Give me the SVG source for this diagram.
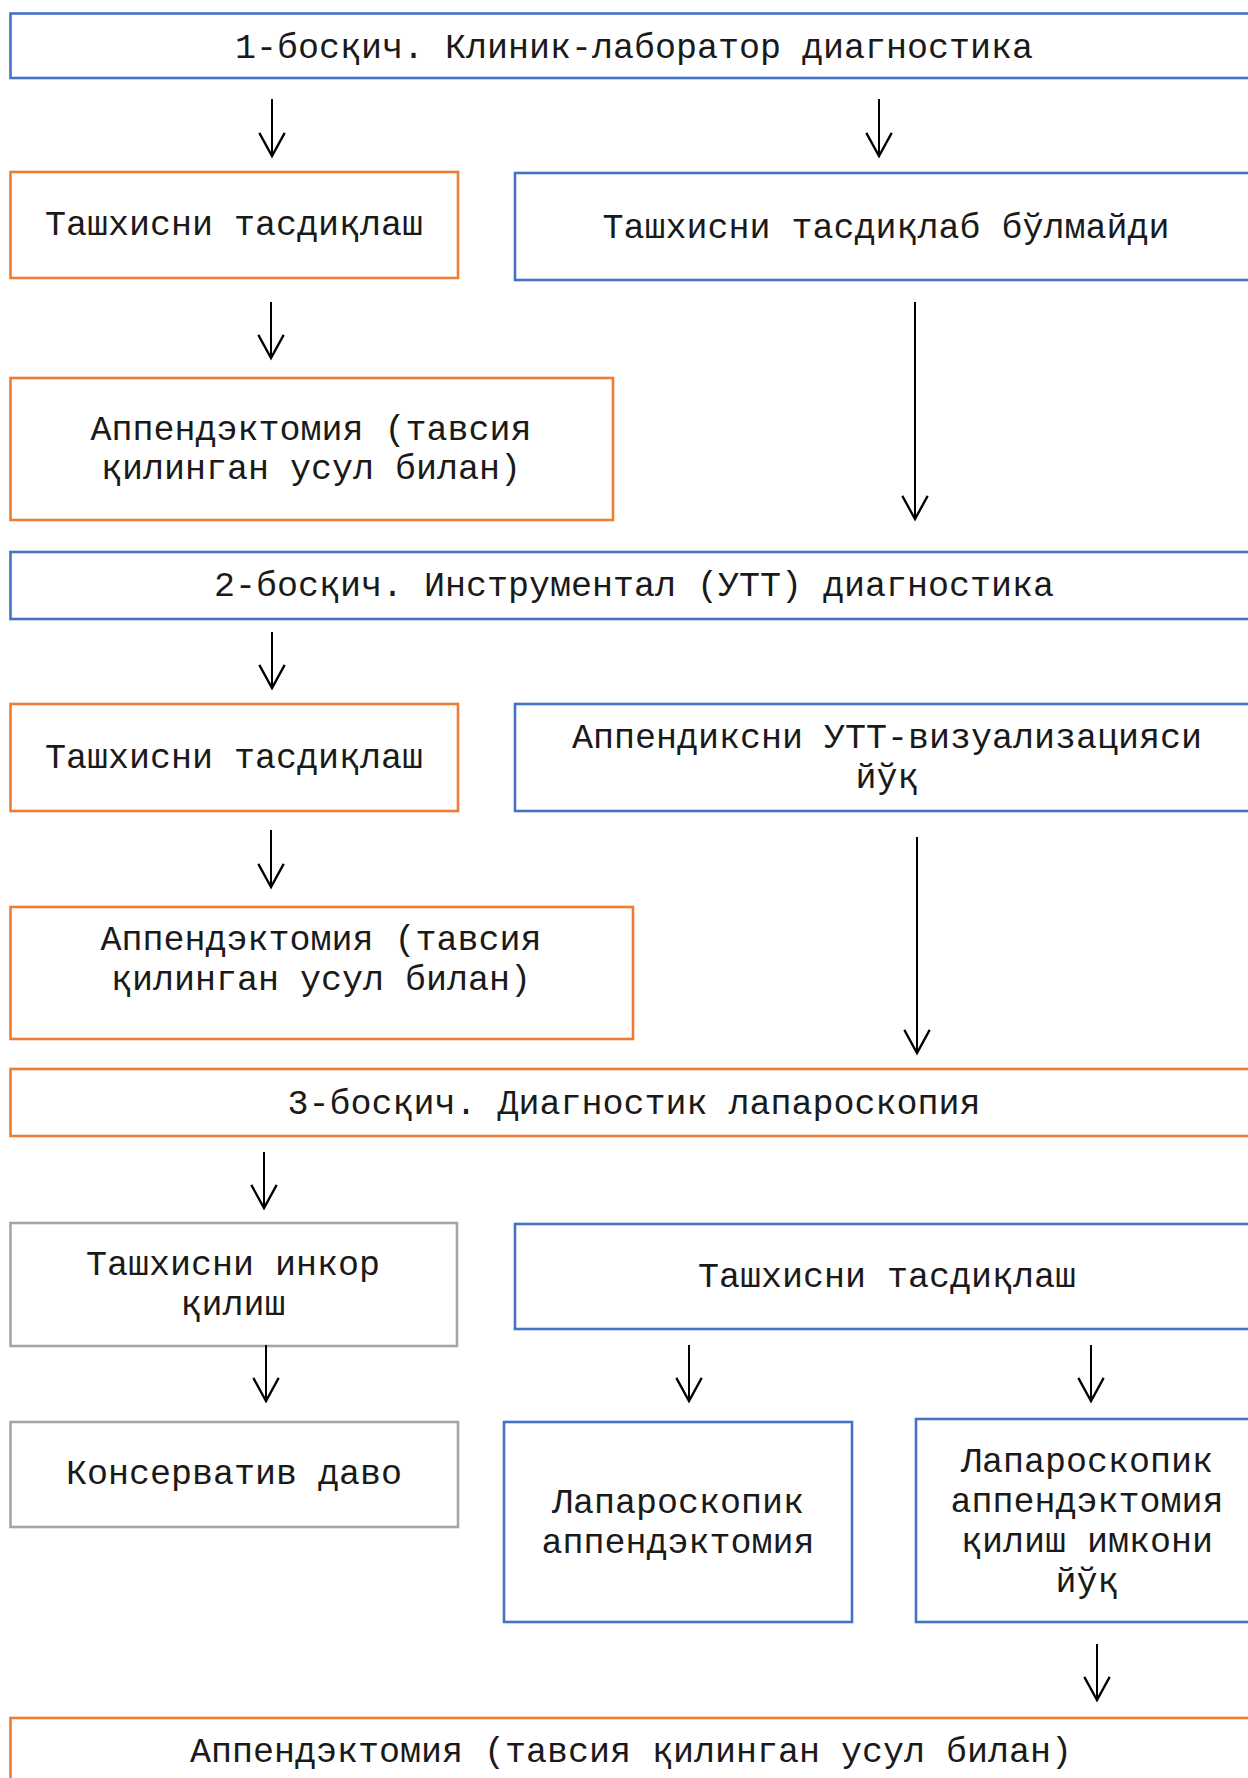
<svg xmlns="http://www.w3.org/2000/svg" width="1248" height="1778" viewBox="0 0 1248 1778">
<style>
.box{fill:#fff;stroke-width:2.6}
.blue{stroke:#4472C4}
.orange{stroke:#ED7D31}
.gray{stroke:#A5A5A5}
text{font-family:"Liberation Mono","Courier New",monospace;font-size:35px;fill:#1a1a1a;text-anchor:middle}
.conn line{stroke:#000;stroke-width:2;marker-end:url(#ah)}
</style>
<defs>
<marker id="ah" markerUnits="userSpaceOnUse" markerWidth="30" markerHeight="30" viewBox="-22 -13 24 26" refX="0" refY="0" orient="auto">
<path d="M-20,-11 L0,0 L-20,11" fill="none" stroke="#000" stroke-width="2"/>
</marker>
</defs>
<rect width="1248" height="1778" fill="#fff"/>
<g id="b1"><rect class="box blue" x="10.5" y="13.5" width="1250" height="64.5"/><text x="634" y="58">1-босқич. Клиник-лаборатор диагностика</text></g>
<g id="b2a"><rect class="box orange" x="10.5" y="172" width="447.5" height="106"/><text x="234" y="235">Ташхисни тасдиқлаш</text></g>
<g id="b2b"><rect class="box blue" x="515" y="173" width="745" height="107"/><text x="886" y="238">Ташхисни тасдиқлаб бўлмайди</text></g>
<g id="b3"><rect class="box orange" x="10.5" y="378" width="602.5" height="142"/><text x="311" y="440">Аппендэктомия (тавсия</text><text x="311" y="479">қилинган усул билан)</text></g>
<g id="b4"><rect class="box blue" x="10.5" y="552" width="1250" height="67"/><text x="634" y="596">2-босқич. Инструментал (УТТ) диагностика</text></g>
<g id="b5a"><rect class="box orange" x="10.5" y="704" width="447.5" height="107"/><text x="234" y="768">Ташхисни тасдиқлаш</text></g>
<g id="b5b"><rect class="box blue" x="515" y="704" width="745" height="107"/><text x="887" y="748">Аппендиксни УТТ-визуализацияси</text><text x="887" y="788">йўқ</text></g>
<g id="b6"><rect class="box orange" x="10.5" y="907" width="622.5" height="132"/><text x="321" y="950">Аппендэктомия (тавсия</text><text x="321" y="990">қилинган усул билан)</text></g>
<g id="b7"><rect class="box orange" x="10.5" y="1069" width="1250" height="67"/><text x="634" y="1114">3-босқич. Диагностик лапароскопия</text></g>
<g id="b8a"><rect class="box gray" x="10.5" y="1223" width="446.5" height="123"/><text x="233" y="1275">Ташхисни инкор</text><text x="233" y="1315">қилиш</text></g>
<g id="b8b"><rect class="box blue" x="515" y="1224" width="745" height="105"/><text x="887" y="1287">Ташхисни тасдиқлаш</text></g>
<g id="b9a"><rect class="box gray" x="10.5" y="1422" width="447.5" height="105"/><text x="234" y="1484">Консерватив даво</text></g>
<g id="b9b"><rect class="box blue" x="504" y="1422" width="348" height="200"/><text x="678" y="1513">Лапароскопик</text><text x="678" y="1553">аппендэктомия</text></g>
<g id="b9c"><rect class="box blue" x="916" y="1419" width="345" height="203"/><text x="1087" y="1472">Лапароскопик</text><text x="1087" y="1512">аппендэктомия</text><text x="1087" y="1552">қилиш имкони</text><text x="1087" y="1592">йўқ</text></g>
<g id="b10"><rect class="box orange" x="10.5" y="1718" width="1250" height="100"/><text x="631" y="1762">Аппендэктомия (тавсия қилинган усул билан)</text></g>
<g id="connectors" class="conn">
<line x1="272" y1="99" x2="272" y2="156"/>
<line x1="879" y1="99" x2="879" y2="156"/>
<line x1="271" y1="302" x2="271" y2="358"/>
<line x1="915" y1="302" x2="915" y2="519"/>
<line x1="272" y1="632" x2="272" y2="688"/>
<line x1="271" y1="830" x2="271" y2="887"/>
<line x1="917" y1="837" x2="917" y2="1053"/>
<line x1="264" y1="1152" x2="264" y2="1208"/>
<line x1="266" y1="1345" x2="266" y2="1401"/>
<line x1="689" y1="1345" x2="689" y2="1401"/>
<line x1="1091" y1="1345" x2="1091" y2="1401"/>
<line x1="1097" y1="1644" x2="1097" y2="1700"/>
</g>
</svg>
